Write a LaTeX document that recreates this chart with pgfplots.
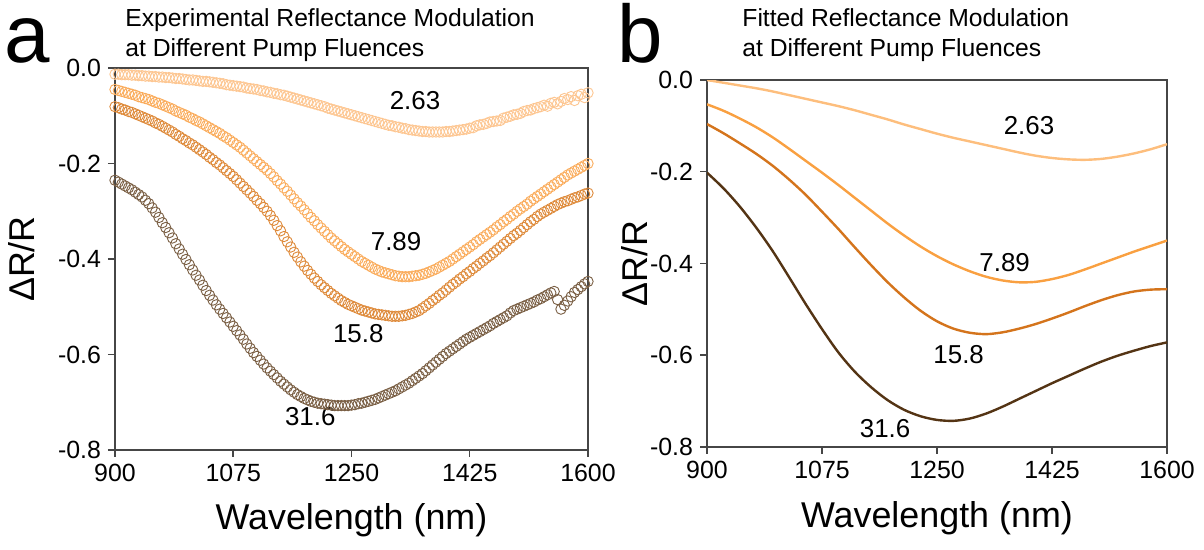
\documentclass[border=0pt]{standalone}
\usepackage{pgfplots}
\pgfplotsset{compat=1.18}
\usepackage{pgfplotstable}
\usepackage{fontspec}
\setmainfont{Liberation Sans}
\definecolor{ca}{RGB}{253,190,125}
\definecolor{cb}{RGB}{249,160,65}
\definecolor{cc}{RGB}{212,116,28}
\definecolor{cd}{RGB}{84,52,20}
\definecolor{ma}{RGB}{253,198,145}
\definecolor{mb}{RGB}{250,172,92}
\definecolor{mc}{RGB}{222,138,58}
\definecolor{md}{RGB}{122,95,68}
\definecolor{axc}{RGB}{70,70,70}

\pgfplotsset{
  paneldefaults/.style={
    scale only axis,
    xmin=900, xmax=1600, ymin=-0.8, ymax=0,
    xtick={900,1075,1250,1425,1600},
    ytick={-0.8,-0.6,-0.4,-0.2,0},
    tick align=outside, tick pos=left,
    major tick length=3.5bp,
    every tick/.style={line width=0.75bp, axc},
    axis line style={line width=0.75bp, axc},
    tick label style={font=\fontsize{12.5}{14}\selectfont},
    xticklabel style={/pgf/number format/.cd, 1000 sep={}, assume math mode=true},
    yticklabel style={/pgf/number format/.cd, fixed, fixed zerofill, precision=1, assume math mode=true},
    label style={font=\fontsize{18}{20}\selectfont},
    ylabel={ΔR/R},
    xlabel={Wavelength (nm)},
  },
  expmark/.style={only marks, mark=o, mark size=2.6bp, mark options={line width=0.45bp, draw=#1}},
  fitline/.style={smooth, line width=1.2bp, color=#1},
}

\pgfplotstableread{
x y
900 -0.013
905 -0.013
910 -0.014
915 -0.014
920 -0.014
925 -0.015
930 -0.015
935 -0.016
940 -0.016
945 -0.017
950 -0.017
955 -0.018
960 -0.018
965 -0.019
970 -0.019
975 -0.020
980 -0.020
985 -0.021
990 -0.022
995 -0.022
1000 -0.023
1005 -0.024
1010 -0.025
1015 -0.025
1020 -0.026
1025 -0.027
1030 -0.028
1035 -0.028
1040 -0.029
1045 -0.030
1050 -0.031
1055 -0.032
1060 -0.033
1065 -0.035
1070 -0.036
1075 -0.037
1080 -0.038
1085 -0.039
1090 -0.040
1095 -0.042
1100 -0.043
1105 -0.044
1110 -0.045
1115 -0.047
1120 -0.048
1125 -0.050
1130 -0.051
1135 -0.053
1140 -0.054
1145 -0.056
1150 -0.057
1155 -0.059
1160 -0.061
1165 -0.063
1170 -0.065
1175 -0.067
1180 -0.069
1185 -0.071
1190 -0.073
1195 -0.075
1200 -0.077
1205 -0.079
1210 -0.081
1215 -0.084
1220 -0.086
1225 -0.088
1230 -0.090
1235 -0.092
1240 -0.094
1245 -0.096
1250 -0.098
1255 -0.100
1260 -0.102
1265 -0.104
1270 -0.106
1275 -0.108
1280 -0.110
1285 -0.112
1290 -0.114
1295 -0.116
1300 -0.118
1305 -0.120
1310 -0.121
1315 -0.123
1320 -0.124
1325 -0.126
1330 -0.127
1335 -0.129
1340 -0.130
1345 -0.131
1350 -0.132
1355 -0.133
1360 -0.133
1365 -0.134
1370 -0.134
1375 -0.134
1380 -0.134
1385 -0.134
1390 -0.133
1395 -0.133
1400 -0.132
1405 -0.131
1410 -0.130
1415 -0.129
1420 -0.128
1425 -0.126
1430 -0.125
1435 -0.121
1440 -0.119
1445 -0.118
1450 -0.116
1455 -0.113
1460 -0.112
1465 -0.111
1470 -0.110
1475 -0.105
1480 -0.103
1485 -0.101
1490 -0.098
1495 -0.097
1500 -0.095
1505 -0.091
1510 -0.089
1515 -0.088
1520 -0.085
1525 -0.083
1530 -0.081
1535 -0.078
1540 -0.080
1545 -0.074
1550 -0.072
1555 -0.075
1560 -0.070
1565 -0.064
1570 -0.066
1575 -0.060
1580 -0.068
1585 -0.058
1590 -0.055
1595 -0.062
1600 -0.052
}\expA

\pgfplotstableread{
x y
900 -0.045
905 -0.047
910 -0.049
915 -0.051
920 -0.053
925 -0.055
930 -0.057
935 -0.060
940 -0.062
945 -0.064
950 -0.066
955 -0.069
960 -0.072
965 -0.074
970 -0.077
975 -0.080
980 -0.083
985 -0.086
990 -0.090
995 -0.093
1000 -0.096
1005 -0.099
1010 -0.103
1015 -0.106
1020 -0.110
1025 -0.113
1030 -0.117
1035 -0.121
1040 -0.125
1045 -0.129
1050 -0.133
1055 -0.137
1060 -0.142
1065 -0.146
1070 -0.151
1075 -0.156
1080 -0.161
1085 -0.166
1090 -0.172
1095 -0.178
1100 -0.184
1105 -0.190
1110 -0.196
1115 -0.202
1120 -0.208
1125 -0.214
1130 -0.221
1135 -0.228
1140 -0.236
1145 -0.243
1150 -0.251
1155 -0.258
1160 -0.266
1165 -0.274
1170 -0.282
1175 -0.289
1180 -0.297
1185 -0.305
1190 -0.313
1195 -0.320
1200 -0.328
1205 -0.335
1210 -0.342
1215 -0.349
1220 -0.356
1225 -0.362
1230 -0.368
1235 -0.374
1240 -0.380
1245 -0.385
1250 -0.390
1255 -0.395
1260 -0.400
1265 -0.405
1270 -0.409
1275 -0.413
1280 -0.417
1285 -0.421
1290 -0.424
1295 -0.427
1300 -0.429
1305 -0.431
1310 -0.433
1315 -0.435
1320 -0.436
1325 -0.437
1330 -0.437
1335 -0.437
1340 -0.436
1345 -0.435
1350 -0.434
1355 -0.432
1360 -0.430
1365 -0.427
1370 -0.424
1375 -0.421
1380 -0.417
1385 -0.413
1390 -0.409
1395 -0.405
1400 -0.400
1405 -0.395
1410 -0.390
1415 -0.385
1420 -0.380
1425 -0.375
1430 -0.370
1435 -0.364
1440 -0.359
1445 -0.354
1450 -0.349
1455 -0.344
1460 -0.339
1465 -0.333
1470 -0.328
1475 -0.322
1480 -0.317
1485 -0.311
1490 -0.306
1495 -0.300
1500 -0.295
1505 -0.290
1510 -0.285
1515 -0.279
1520 -0.274
1525 -0.269
1530 -0.264
1535 -0.259
1540 -0.254
1545 -0.249
1550 -0.244
1555 -0.239
1560 -0.234
1565 -0.229
1570 -0.224
1575 -0.220
1580 -0.216
1585 -0.212
1590 -0.208
1595 -0.204
1600 -0.200
}\expB

\pgfplotstableread{
x y
900 -0.081
905 -0.083
910 -0.086
915 -0.088
920 -0.091
925 -0.093
930 -0.096
935 -0.099
940 -0.102
945 -0.105
950 -0.108
955 -0.111
960 -0.115
965 -0.118
970 -0.122
975 -0.126
980 -0.130
985 -0.134
990 -0.139
995 -0.143
1000 -0.148
1005 -0.152
1010 -0.157
1015 -0.161
1020 -0.166
1025 -0.171
1030 -0.176
1035 -0.181
1040 -0.187
1045 -0.192
1050 -0.198
1055 -0.203
1060 -0.209
1065 -0.215
1070 -0.221
1075 -0.227
1080 -0.234
1085 -0.241
1090 -0.248
1095 -0.255
1100 -0.262
1105 -0.269
1110 -0.277
1115 -0.284
1120 -0.292
1125 -0.300
1130 -0.309
1135 -0.319
1140 -0.330
1145 -0.341
1150 -0.353
1155 -0.364
1160 -0.375
1165 -0.386
1170 -0.396
1175 -0.406
1180 -0.415
1185 -0.424
1190 -0.432
1195 -0.440
1200 -0.447
1205 -0.454
1210 -0.460
1215 -0.466
1220 -0.472
1225 -0.477
1230 -0.482
1235 -0.487
1240 -0.491
1245 -0.495
1250 -0.498
1255 -0.501
1260 -0.504
1265 -0.507
1270 -0.509
1275 -0.511
1280 -0.513
1285 -0.515
1290 -0.516
1295 -0.517
1300 -0.518
1305 -0.519
1310 -0.520
1315 -0.520
1320 -0.520
1325 -0.519
1330 -0.518
1335 -0.516
1340 -0.514
1345 -0.511
1350 -0.508
1355 -0.503
1360 -0.498
1365 -0.493
1370 -0.487
1375 -0.482
1380 -0.476
1385 -0.471
1390 -0.465
1395 -0.459
1400 -0.453
1405 -0.448
1410 -0.442
1415 -0.437
1420 -0.431
1425 -0.426
1430 -0.420
1435 -0.415
1440 -0.409
1445 -0.404
1450 -0.398
1455 -0.393
1460 -0.387
1465 -0.381
1470 -0.375
1475 -0.369
1480 -0.363
1485 -0.357
1490 -0.351
1495 -0.346
1500 -0.340
1505 -0.334
1510 -0.328
1515 -0.322
1520 -0.317
1525 -0.311
1530 -0.306
1535 -0.302
1540 -0.298
1545 -0.294
1550 -0.290
1555 -0.286
1560 -0.283
1565 -0.280
1570 -0.278
1575 -0.275
1580 -0.272
1585 -0.270
1590 -0.267
1595 -0.264
1600 -0.262
}\expC

\pgfplotstableread{
x y
900 -0.235
905 -0.239
910 -0.243
915 -0.247
920 -0.251
925 -0.255
930 -0.260
935 -0.265
940 -0.270
945 -0.277
950 -0.284
955 -0.293
960 -0.302
965 -0.313
970 -0.324
975 -0.334
980 -0.345
985 -0.356
990 -0.368
995 -0.379
1000 -0.390
1005 -0.401
1010 -0.412
1015 -0.423
1020 -0.434
1025 -0.444
1030 -0.455
1035 -0.466
1040 -0.476
1045 -0.486
1050 -0.496
1055 -0.505
1060 -0.514
1065 -0.523
1070 -0.532
1075 -0.541
1080 -0.550
1085 -0.559
1090 -0.568
1095 -0.578
1100 -0.587
1105 -0.596
1110 -0.604
1115 -0.612
1120 -0.620
1125 -0.628
1130 -0.635
1135 -0.642
1140 -0.649
1145 -0.656
1150 -0.662
1155 -0.668
1160 -0.674
1165 -0.679
1170 -0.684
1175 -0.688
1180 -0.692
1185 -0.695
1190 -0.698
1195 -0.700
1200 -0.702
1205 -0.703
1210 -0.704
1215 -0.705
1220 -0.706
1225 -0.707
1230 -0.707
1235 -0.707
1240 -0.707
1245 -0.707
1250 -0.706
1255 -0.705
1260 -0.703
1265 -0.702
1270 -0.700
1275 -0.698
1280 -0.696
1285 -0.694
1290 -0.691
1295 -0.688
1300 -0.685
1305 -0.682
1310 -0.679
1315 -0.676
1320 -0.672
1325 -0.668
1330 -0.664
1335 -0.660
1340 -0.655
1345 -0.650
1350 -0.645
1355 -0.640
1360 -0.634
1365 -0.628
1370 -0.622
1375 -0.616
1380 -0.610
1385 -0.604
1390 -0.598
1395 -0.593
1400 -0.588
1405 -0.583
1410 -0.578
1415 -0.573
1420 -0.568
1425 -0.564
1430 -0.560
1435 -0.556
1440 -0.552
1445 -0.548
1450 -0.544
1455 -0.540
1460 -0.535
1465 -0.531
1470 -0.527
1475 -0.523
1480 -0.519
1485 -0.513
1490 -0.508
1495 -0.505
1500 -0.502
1505 -0.499
1510 -0.496
1515 -0.493
1520 -0.490
1525 -0.486
1530 -0.483
1535 -0.479
1540 -0.475
1545 -0.471
1550 -0.468
1555 -0.485
1560 -0.505
1565 -0.497
1570 -0.488
1575 -0.479
1580 -0.470
1585 -0.464
1590 -0.458
1595 -0.452
1600 -0.447
}\expD

\pgfplotstableread{
x y
900 0.000
925 -0.006
950 -0.012
975 -0.018
1000 -0.025
1025 -0.033
1050 -0.041
1075 -0.049
1100 -0.057
1125 -0.066
1150 -0.076
1175 -0.086
1200 -0.097
1225 -0.107
1250 -0.117
1275 -0.126
1300 -0.134
1325 -0.142
1350 -0.150
1375 -0.158
1400 -0.165
1425 -0.170
1450 -0.173
1475 -0.174
1500 -0.172
1525 -0.167
1550 -0.160
1575 -0.151
1600 -0.140
}\fitA

\pgfplotstableread{
x y
900 -0.053
925 -0.067
950 -0.084
975 -0.103
1000 -0.125
1025 -0.150
1050 -0.176
1075 -0.202
1100 -0.229
1125 -0.257
1150 -0.285
1175 -0.313
1200 -0.339
1225 -0.363
1250 -0.384
1275 -0.402
1300 -0.417
1325 -0.429
1350 -0.437
1375 -0.441
1400 -0.440
1425 -0.434
1450 -0.425
1475 -0.413
1500 -0.400
1525 -0.387
1550 -0.374
1575 -0.362
1600 -0.350
}\fitB

\pgfplotstableread{
x y
900 -0.096
925 -0.116
950 -0.138
975 -0.161
1000 -0.187
1025 -0.217
1050 -0.250
1075 -0.287
1100 -0.325
1125 -0.365
1150 -0.404
1175 -0.441
1200 -0.474
1225 -0.503
1250 -0.526
1275 -0.542
1300 -0.551
1325 -0.554
1350 -0.550
1375 -0.542
1400 -0.532
1425 -0.520
1450 -0.507
1475 -0.493
1500 -0.480
1525 -0.469
1550 -0.461
1575 -0.457
1600 -0.456
}\fitC

\pgfplotstableread{
x y
900 -0.202
925 -0.236
950 -0.276
975 -0.322
1000 -0.373
1025 -0.430
1050 -0.488
1075 -0.543
1100 -0.594
1125 -0.636
1150 -0.670
1175 -0.698
1200 -0.719
1225 -0.733
1250 -0.741
1275 -0.743
1300 -0.738
1325 -0.727
1350 -0.712
1375 -0.695
1400 -0.678
1425 -0.661
1450 -0.645
1475 -0.629
1500 -0.614
1525 -0.601
1550 -0.590
1575 -0.580
1600 -0.572
}\fitD

\begin{document}
\begin{tikzpicture}
\useasboundingbox (0,0) rectangle (602bp,-275bp);

% panel letters and titles
\node[anchor=base west, inner sep=0pt, font=\fontsize{41}{41}\selectfont] at (2bp,-31bp) {a};
\node[anchor=base west, inner sep=0pt, font=\fontsize{41}{41}\selectfont] at (308.5bp,-31bp) {b};
\node[anchor=base west, inner sep=0pt, font=\fontsize{12.4}{14}\selectfont] at (62.5bp,-13bp) {Experimental Reflectance Modulation};
\node[anchor=base west, inner sep=0pt, font=\fontsize{12.4}{14}\selectfont] at (62.5bp,-28bp) {at Different Pump Fluences};
\node[anchor=base west, inner sep=0pt, font=\fontsize{12.4}{14}\selectfont] at (371bp,-13bp) {Fitted Reflectance Modulation};
\node[anchor=base west, inner sep=0pt, font=\fontsize{12.4}{14}\selectfont] at (371bp,-28bp) {at Different Pump Fluences};

% panel a
\begin{axis}[paneldefaults,
  at={(57.5bp,-34bp)}, anchor=north west,
  width=236.5bp, height=191bp,
  xlabel style={at={(axis description cs:0.5,-0.183)}, anchor=center},
  ylabel style={at={(axis description cs:-0.197,0.5)}, anchor=center},
]
\addplot[expmark=ma] table[x=x,y=y] {\expA};
\addplot[expmark=mb] table[x=x,y=y] {\expB};
\addplot[expmark=mc] table[x=x,y=y] {\expC};
\addplot[expmark=md] table[x=x,y=y] {\expD};
\node[font=\fontsize{13}{14}\selectfont] at (axis cs:1344,-0.068) {2.63};
\node[font=\fontsize{13}{14}\selectfont] at (axis cs:1316,-0.364) {7.89};
\node[font=\fontsize{13}{14}\selectfont] at (axis cs:1260,-0.556) {15.8};
\node[font=\fontsize{13}{14}\selectfont] at (axis cs:1189,-0.730) {31.6};
\end{axis}

% panel b
\begin{axis}[paneldefaults,
  at={(353.5bp,-40bp)}, anchor=north west,
  width=230bp, height=183.5bp,
  xlabel style={at={(axis description cs:0.5,-0.193)}, anchor=center},
  ylabel style={at={(axis description cs:-0.158,0.5)}, anchor=center},
]
\addplot[fitline=ca] table[x=x,y=y] {\fitA};
\addplot[fitline=cb] table[x=x,y=y] {\fitB};
\addplot[fitline=cc] table[x=x,y=y] {\fitC};
\addplot[fitline=cd] table[x=x,y=y] {\fitD};
\node[font=\fontsize{13}{14}\selectfont] at (axis cs:1390,-0.100) {2.63};
\node[font=\fontsize{13}{14}\selectfont] at (axis cs:1353,-0.397) {7.89};
\node[font=\fontsize{13}{14}\selectfont] at (axis cs:1283,-0.598) {15.8};
\node[font=\fontsize{13}{14}\selectfont] at (axis cs:1171,-0.760) {31.6};
\end{axis}
\end{tikzpicture}
\end{document}
